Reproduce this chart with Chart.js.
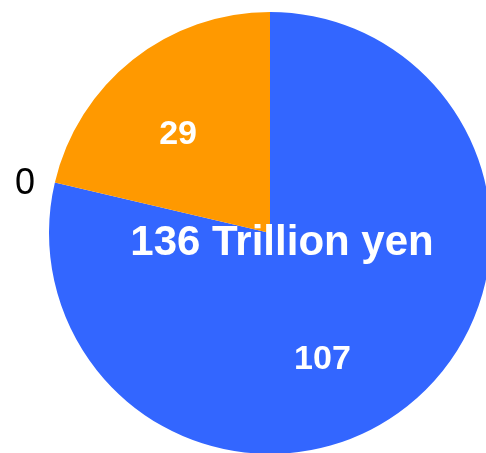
<!DOCTYPE html>
<html lang="en">
<head>
  <meta charset="UTF-8">
  <title>136 Trillion yen</title>
  <style>
    html, body { margin: 0; padding: 0; background: #fff; overflow: hidden; width: 486px; height: 453px; }
    #wrap { position: absolute; left: 0; top: 12px; width: 540px; height: 442px; }
  </style>
  <script src="https://cdn.jsdelivr.net/npm/chart.js"></script>
</head>
<body>
  <div id="wrap"><canvas id="pie"></canvas></div>
  <script>
    // slices, clockwise from 12 o'clock
    const categories = ['A', 'B', 'C'];
    const values = [107, 0, 29];
    const colors = ['#3366ff', '#3366ff', '#ff9900'];
    const unit = 'Trillion yen';

    const total = values.reduce((a, b) => a + b, 0);

    // where each label goes: fraction along the slice, fraction of radius, extra angle (deg)
    const labelPlace = [
      { f: 0.556, k: 0.62, dA: 0, color: '#fff', font: 'bold 34px "Liberation Sans", Arial, sans-serif' },
      { f: 0.5, k: 1.13, dA: -2, color: '#000', font: '36px "Liberation Sans", Arial, sans-serif' },
      { f: 0.44, k: 0.61, dA: 0, color: '#fff', font: 'bold 34px "Liberation Sans", Arial, sans-serif' }
    ];

    const pieLabels = {
      id: 'pieLabels',
      afterDatasetsDraw(chart) {
        const ctx = chart.ctx;
        const arcs = chart.getDatasetMeta(0).data;
        ctx.save();
        ctx.textAlign = 'center';
        ctx.textBaseline = 'middle';
        arcs.forEach((arc, i) => {
          const p = arc.getProps(['x', 'y', 'startAngle', 'endAngle', 'outerRadius']);
          const lp = labelPlace[i];
          const a = p.startAngle + lp.f * (p.endAngle - p.startAngle) + lp.dA * Math.PI / 180;
          const d = p.outerRadius * lp.k;
          ctx.fillStyle = lp.color;
          ctx.font = lp.font;
          ctx.fillText(String(values[i]), p.x + d * Math.cos(a), p.y + d * Math.sin(a));
        });
        // total in the middle
        const c = arcs[0];
        ctx.textBaseline = 'alphabetic';
        ctx.fillStyle = '#fff';
        ctx.font = 'bold 42px "Liberation Sans", Arial, sans-serif';
        ctx.fillText(total + ' ' + unit, c.x + 12, c.y + 22);
        ctx.restore();
      }
    };

    new Chart(document.getElementById('pie'), {
      type: 'pie',
      data: {
        labels: categories,
        datasets: [{
          data: values,
          backgroundColor: colors,
          borderWidth: 0,
          hoverOffset: 0
        }]
      },
      options: {
        responsive: true,
        maintainAspectRatio: false,
        animation: false,
        layout: { padding: 0 },
        plugins: {
          legend: { display: false },
          tooltip: { enabled: false }
        }
      },
      plugins: [pieLabels]
    });
  </script>
</body>
</html>
